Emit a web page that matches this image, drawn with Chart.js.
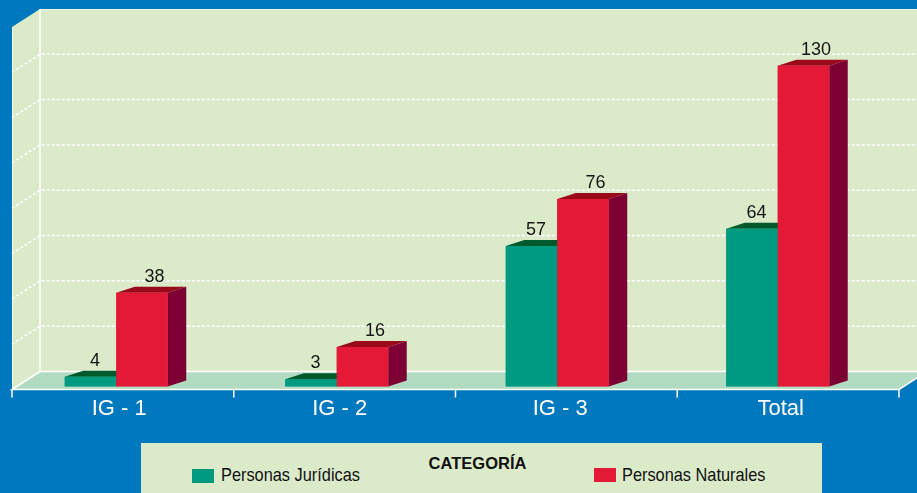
<!DOCTYPE html>
<html>
<head>
<meta charset="utf-8">
<script src="https://cdn.jsdelivr.net/npm/chart.js@4.4.1/dist/chart.umd.min.js"></script>
<style>
  html, body { margin: 0; padding: 0; background: #0078be; }
  #wrap { position: relative; width: 917px; height: 493px; overflow: hidden; }
  #chart { position: absolute; left: 0; top: 0; }
  #legend {
    position: absolute; left: 141px; top: 443px; width: 681px; height: 60px;
    background: #dbebca; color: #111;
    font-family: "Liberation Sans", Arial, sans-serif;
  }
  #legend .title {
    position: absolute; left: 0; width: 673px; top: 12px; text-align: center;
    font: bold 16.5px/16.5px "Liberation Sans", Arial, sans-serif;
  }
  #legend .sw { position: absolute; width: 22px; height: 14px; }
  #legend .lbl {
    position: absolute; font-size: 19px; line-height: 19px; white-space: nowrap;
    transform: scaleX(0.86); transform-origin: 0 0;
  }
</style>
</head>
<body>
<div id="wrap">
  <canvas id="chart" width="917" height="493"></canvas>
  <div id="legend">
    <div class="title">CATEGORÍA</div>
    <div class="sw" id="sw0" style="left:51px;top:26px;"></div>
    <div class="lbl" id="lb0" style="left:80px;top:22px;"></div>
    <div class="sw" id="sw1" style="left:453px;top:25px;"></div>
    <div class="lbl" id="lb1" style="left:481px;top:22px;"></div>
  </div>
</div>
<script>
const categories = ['IG - 1', 'IG - 2', 'IG - 3', 'Total'];
const seriesNames = ['Personas Jurídicas', 'Personas Naturales'];
const juridicas = [4, 3, 57, 64];
const naturales = [38, 16, 76, 130];
const gridTicks = [0, 20, 40, 60, 80, 100, 120, 140, 160];

const WALL = '#dbebca';
const FLOOR = '#b2dcc2';

// pseudo 3D room: walls, floor, dashed grid on the back wall
const roomPlugin = {
    id: 'room',
    beforeDatasetsDraw(chart) {
        const ctx = chart.ctx;
        const a = chart.chartArea;
        const yg = chart.scales.yGrid;
        const DX = 28, DY = 18;
        const backL = a.left + 34;
        const frontL = backL - DX;
        const frontR = a.right + 11;
        const floorBack = yg.getPixelForValue(0);
        const floorFront = floorBack + DY;
        const wallTop = yg.getPixelForValue(gridTicks[gridTicks.length - 1]);
        const W = chart.width;

        ctx.save();
        ctx.fillStyle = WALL;
        ctx.beginPath();
        ctx.moveTo(frontL, wallTop + DY);
        ctx.lineTo(backL, wallTop);
        ctx.lineTo(W, wallTop);
        ctx.lineTo(W, floorBack);
        ctx.lineTo(backL, floorBack);
        ctx.lineTo(frontL, floorFront);
        ctx.closePath();
        ctx.fill();

        ctx.fillStyle = FLOOR;
        ctx.beginPath();
        ctx.moveTo(frontL, floorFront);
        ctx.lineTo(backL, floorBack);
        ctx.lineTo(frontR + DX, floorBack);
        ctx.lineTo(frontR, floorFront);
        ctx.closePath();
        ctx.fill();

        // dashed gridlines
        ctx.strokeStyle = '#ffffff';
        ctx.lineWidth = 1.5;
        ctx.setLineDash([3, 2]);
        gridTicks.slice(1, -1).forEach(v => {
            const y = yg.getPixelForValue(v);
            ctx.beginPath();
            ctx.moveTo(frontL, y + DY);
            ctx.lineTo(backL, y);
            ctx.lineTo(W, y);
            ctx.stroke();
        });
        ctx.setLineDash([]);

        // edges
        ctx.lineWidth = 1.5;
        ctx.beginPath();
        ctx.moveTo(backL, wallTop);
        ctx.lineTo(backL, floorBack);
        ctx.lineTo(W, floorBack);
        ctx.moveTo(backL, floorBack);
        ctx.lineTo(frontL, floorFront);
        ctx.lineTo(frontR, floorFront);
        ctx.lineTo(frontR + DX, floorBack);
        ctx.stroke();

        ctx.strokeStyle = 'rgba(255,255,255,0.6)';
        ctx.lineWidth = 1;
        ctx.beginPath();
        ctx.moveTo(frontL + 0.5, wallTop + DY);
        ctx.lineTo(frontL + 0.5, floorFront);
        ctx.moveTo(backL, wallTop + 0.5);
        ctx.lineTo(W, wallTop + 0.5);
        ctx.stroke();

        // tick marks on the front edge
        ctx.strokeStyle = '#ffffff';
        ctx.lineWidth = 1.5;
        const n = categories.length;
        for (let i = 0; i <= n; i++) {
            const x = frontL + i * (frontR - frontL) / n;
            ctx.beginPath();
            ctx.moveTo(x, floorFront);
            ctx.lineTo(x, floorFront + 8);
            ctx.stroke();
        }
        ctx.restore();
    }
};

// top and side faces, then value labels
const bars3dPlugin = {
    id: 'bars3d',
    afterDatasetsDraw(chart) {
        const ctx = chart.ctx;
        const DX = 18.5, DY = 6;
        ctx.save();
        chart.data.datasets.forEach((ds, i) => {
            const meta = chart.getDatasetMeta(i);
            meta.data.forEach(bar => {
                const p = bar.getProps(['x', 'y', 'base', 'width'], true);
                const l = p.x - p.width / 2, r = p.x + p.width / 2;
                ctx.fillStyle = ds.topColor;
                ctx.beginPath();
                ctx.moveTo(l, p.y);
                ctx.lineTo(r, p.y);
                ctx.lineTo(r + DX, p.y - DY);
                ctx.lineTo(l + DX, p.y - DY);
                ctx.closePath();
                ctx.fill();
                ctx.fillStyle = ds.sideColor;
                ctx.beginPath();
                ctx.moveTo(r, p.y);
                ctx.lineTo(r + DX, p.y - DY);
                ctx.lineTo(r + DX, p.base - DY);
                ctx.lineTo(r, p.base);
                ctx.closePath();
                ctx.fill();
                bar.draw(ctx);
            });
        });
        ctx.fillStyle = '#151515';
        ctx.font = '18px "Liberation Sans", Arial, sans-serif';
        ctx.textAlign = 'center';
        ctx.textBaseline = 'alphabetic';
        chart.data.datasets.forEach((ds, i) => {
            chart.getDatasetMeta(i).data.forEach((bar, j) => {
                ctx.fillText(String(ds.data[j]), bar.x + ds.labelShift, bar.y - 11);
            });
        });
        ctx.restore();
    }
};

const chart = new Chart(document.getElementById('chart'), {
    type: 'bar',
    data: {
        labels: categories,
        datasets: [{
            label: seriesNames[0],
            data: juridicas,
            backgroundColor: '#009a80',
            topColor: '#005a2c',
            sideColor: '#00604a',
            labelShift: 4.5
        }, {
            label: seriesNames[1],
            data: naturales,
            backgroundColor: '#e41937',
            topColor: '#9b0a1b',
            sideColor: '#7c0032',
            labelShift: 12.5
        }]
    },
    options: {
        responsive: false,
        animation: false,
        layout: { padding: { left: 6, right: 29, top: 9, bottom: 62 } },
        datasets: { bar: { categoryPercentage: 0.467, barPercentage: 1, borderWidth: 0 } },
        plugins: { legend: { display: false }, tooltip: { enabled: false } },
        scales: {
            x: {
                grid: { display: false, drawTicks: false },
                border: { display: false },
                ticks: {
                    color: '#ffffff',
                    padding: 9,
                    labelOffset: 3,
                    font: { family: '"Liberation Sans", Arial, sans-serif', size: 22, lineHeight: 1.2 }
                }
            },
            y: { display: false, min: 0, max: 153 },
            yGrid: { display: false, min: -6.667, max: gridTicks[gridTicks.length - 1] }
        }
    },
    plugins: [roomPlugin, bars3dPlugin]
});

chart.data.datasets.forEach((ds, i) => {
    document.getElementById('sw' + i).style.background = ds.backgroundColor;
    document.getElementById('lb' + i).textContent = ds.label;
});
</script>
</body>
</html>
